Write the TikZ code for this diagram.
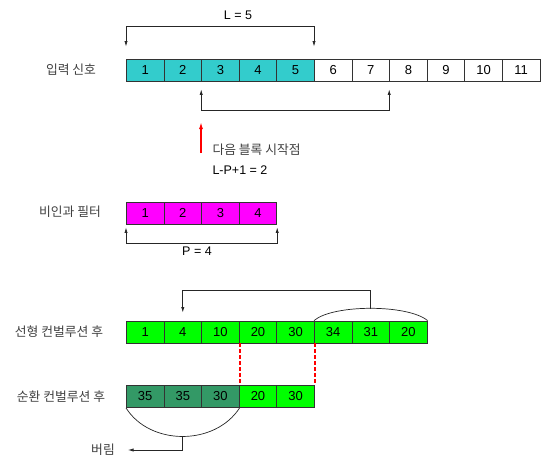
\documentclass[tikz,border=0pt]{standalone}
\usepackage{fontspec}
\setmainfont{Liberation Sans}
\newfontfamily\kr{Noto Sans CJK KR}
\usetikzlibrary{arrows.meta,calc}
\definecolor{teal1}{HTML}{33CCCC}
\definecolor{mag1}{HTML}{FF00FF}
\definecolor{grn1}{HTML}{00FF00}
\definecolor{dgrn1}{HTML}{339966}
\definecolor{lblgray}{HTML}{404040}
\begin{document}
\begin{tikzpicture}[x=1pt,y=-1pt,
 cell/.style={draw=black!80,line width=0.8pt,minimum width=37.6pt,minimum height=22pt,inner sep=0pt,anchor=west,font=\fontsize{13}{15}\selectfont},
 lbl/.style={text=lblgray,font=\kr\fontsize{12.8}{15}\selectfont},
 mathlbl/.style={text=black,font=\fontsize{12.5}{15}\selectfont},
 conn/.style={line width=0.7pt,draw=black!85},
 tip/.style={-{Latex[length=5.5pt,width=3.2pt]}},
 tips/.style={{Latex[length=5.5pt,width=3.2pt]}-{Latex[length=5.5pt,width=3.2pt]}},
 reddash/.style={draw=red,line width=1.5pt,dash pattern=on 4pt off 2pt}
]
\useasboundingbox (0,0) rectangle (544,460);

% input signal row
\foreach \n [count=\i] in {1,...,5}
  \node[cell,fill=teal1] (in\i) at ({126+(\i-1)*37.6},70) {\n};
\foreach \n [count=\i from 6] in {6,...,11}
  \node[cell,fill=white] (in\i) at ({126+(\i-1)*37.6},70) {\n};
\node[lbl] (lin) at (71,70) {입력 신호};

% L = 5 bracket
\coordinate (Ltop) at (0,26);
\coordinate (La) at ($(in1.north west)+(0,-12)$);
\coordinate (Lb) at ($(in6.north west)+(0,-12)$);
\draw[conn,tips] (La) -- (La |- Ltop) -- (Lb |- Ltop) -- (Lb);
\node[mathlbl] (Ltxt) at (238,15) {L = 5};

% next block bracket
\coordinate (Nbot) at (0,110);
\coordinate (Na) at ($(in3.south west)+(0,8)$);
\coordinate (Nb) at ($(in8.south west)+(0,8)$);
\draw[conn,tips] (Na) -- (Na |- Nbot) -- (Nb |- Nbot) -- (Nb);

% red arrow
\coordinate (ra) at (201,153);
\coordinate (rb) at (201,122);
\draw[red,line width=1.3pt,-{Latex[length=7pt,width=4pt]}] (ra) -- (rb);
\node[lbl,anchor=west] (nbt) at (209,150) {다음 블록 시작점};
\node[mathlbl,anchor=west] (lp) at (209,170) {L-P+1 = 2};

% filter row
\foreach \n [count=\i] in {1,...,4}
  \node[cell,fill=mag1] (f\i) at ({126+(\i-1)*37.6},213) {\n};
\node[lbl] (lf) at (70,212) {비인과 필터};
\coordinate (Pbot) at (0,243);
\coordinate (Pa) at ($(f1.south west)+(0,3)$);
\coordinate (Pb) at ($(f4.south east)+(0,3)$);
\draw[conn,tips] (Pa) -- (Pa |- Pbot) -- (Pb |- Pbot) -- (Pb);
\node[mathlbl] (ptxt) at (197,251) {P = 4};

% linear convolution row
\foreach \n [count=\i] in {1,4,10,20,30,34,31,20}
  \node[cell,fill=grn1] (lin\i) at ({126+(\i-1)*37.6},332) {\n};
\node[lbl] (llc) at (59,332) {선형 컨벌루션 후};
\coordinate (apk) at (370.6,308.5);
\draw[conn] (lin6.north west) .. controls (333,304.2) and (408,304.2) .. (lin8.north east);
\coordinate (atop) at (0,290);
\coordinate (adn) at ($(lin2.north)+(0,-8)$);
\draw[conn,tip] (apk) -- (apk |- atop) -- (adn |- atop) -- (adn);

% circular convolution row
\foreach \n [count=\i] in {35,35,30}
  \node[cell,fill=dgrn1] (cir\i) at ({126+(\i-1)*37.6},396.5) {\n};
\foreach \n [count=\i from 4] in {20,30}
  \node[cell,fill=grn1] (cir\i) at ({126+(\i-1)*37.6},396.5) {\n};
\node[lbl] (lcc) at (61,397) {순환 컨벌루션 후};

\draw[conn] (cir1.south west) .. controls (150,446) and (215,446) .. (cir3.south east);
\coordinate (bpk) at (182.5,436.2);
\coordinate (bend) at (128,450);
\draw[conn,tip] (bpk) |- (bend);
\node[lbl] (discard) at (103,450) {버림};

% red dashed
\draw[reddash] ([xshift=0.4pt]lin3.south east) -- ([xshift=0.4pt]cir3.north east);
\draw[reddash] (lin5.south east) -- (cir5.north east);
\end{tikzpicture}
\end{document}
